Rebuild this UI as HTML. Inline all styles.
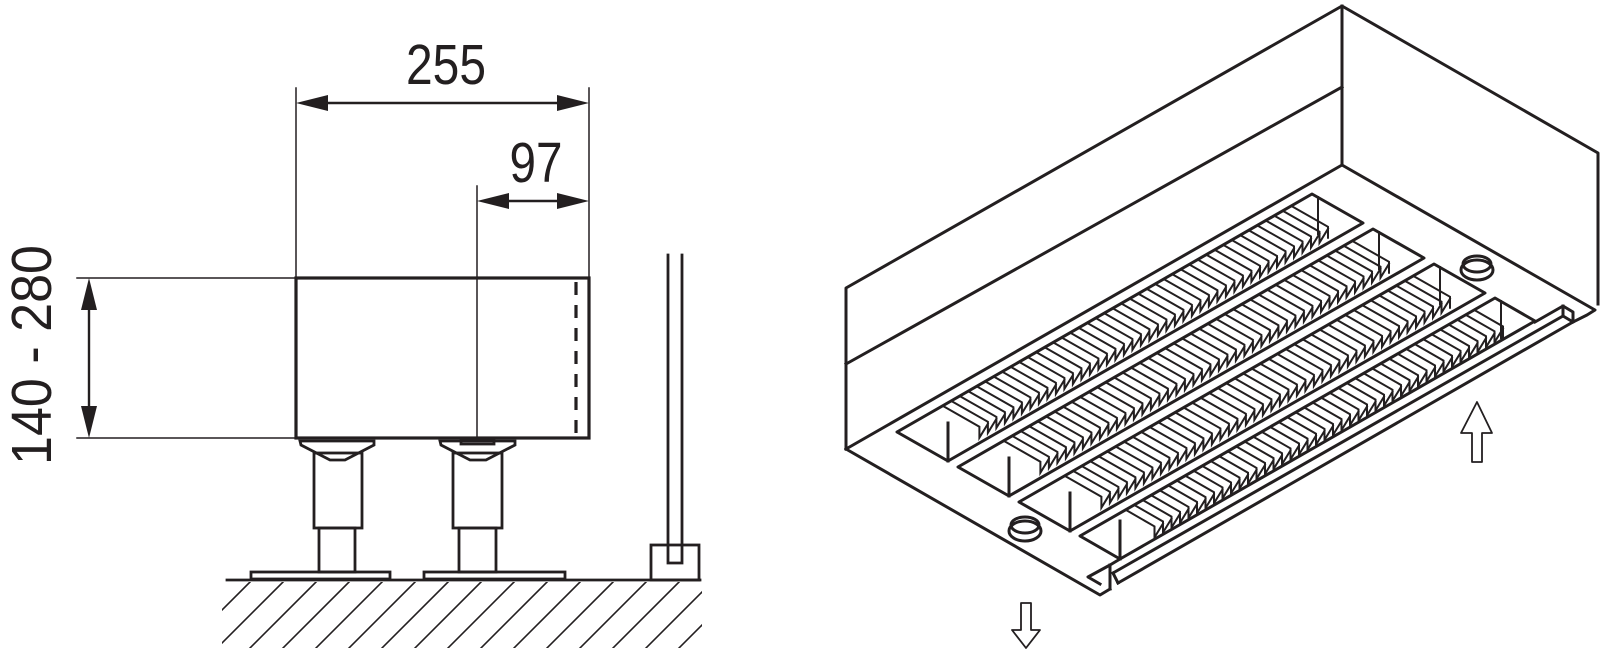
<!DOCTYPE html>
<html><head><meta charset="utf-8"><style>
html,body{margin:0;padding:0;background:#fff;}
svg{display:block;}
text{font-family:"Liberation Sans Narrow","Liberation Sans",sans-serif;fill:#231f20;}
</style></head><body>
<svg id="s" width="1600" height="661" viewBox="0 0 1600 661" xmlns="http://www.w3.org/2000/svg">
<defs><clipPath id="hc"><rect x="222" y="582" width="480" height="66"/></clipPath></defs>
<g stroke="#231f20" fill="none" stroke-linecap="square">
<g stroke-width="1.5">
<line x1="77" y1="278" x2="296" y2="278"/><line x1="77" y1="438" x2="296" y2="438"/>
<line x1="296" y1="88" x2="296" y2="278"/><line x1="589" y1="88" x2="589" y2="278"/>
<line x1="477" y1="186" x2="477" y2="438"/>
</g>
<g stroke-width="2.4">
<line x1="89" y1="300" x2="89" y2="416"/>
<line x1="318" y1="103" x2="567" y2="103"/>
<line x1="499" y1="201" x2="567" y2="201"/>
</g>
<g fill="#231f20" stroke="none">
<polygon points="89,278 81,310 97,310"/><polygon points="89,438 81,406 97,406"/>
<polygon points="296,103 328,95 328,111"/><polygon points="589,103 557,95 557,111"/>
<polygon points="477,201 509,193 509,209"/><polygon points="589,201 557,193 557,209"/>
</g>
<rect x="296" y="278" width="293" height="160" stroke-width="3.2"/>
<line x1="576" y1="282" x2="576" y2="434" stroke-width="3.2" stroke-dasharray="13,10" stroke-linecap="butt"/>
<g stroke-width="2.8">
<polygon points="300,441 374,441 374,445 345,460 330,460 301,445"/>
<rect x="314" y="453" width="48" height="75"/><rect x="319" y="528" width="36" height="44"/>
<rect x="251" y="572" width="139" height="7"/>
<polygon points="440,441 515,441 515,445 486,460 470,460 441,445"/>
<rect x="461" y="440" width="33" height="4"/>
<rect x="453" y="453" width="49" height="75"/><rect x="459" y="528" width="37" height="44"/>
<rect x="424" y="572" width="141" height="7"/>
<line x1="227" y1="580" x2="700" y2="580"/>
<rect x="651" y="545" width="48" height="35"/>
<polyline points="668,255 668,563 682,563 682,255"/>
</g>
<g stroke-width="1.6" clip-path="url(#hc)" id="hatch"></g>
<g stroke-width="3" stroke-linejoin="round">
<polyline points="846,449 846,288 1342,6 1598,153 1598,304"/>
<line x1="846" y1="364" x2="1342" y2="87"/>
<line x1="1342" y1="6" x2="1342" y2="165"/>
<line x1="846" y1="449" x2="1342" y2="165"/>
<polyline points="1342,165 1595,310 1587,315 1573,322"/>
<polyline points="846,449 1100,595 1110,589"/>
<polyline points="1120,559 1110,565 1088,577 1100,584"/>
<line x1="1110" y1="565" x2="1110" y2="589"/>
<polyline points="1535,322 1563,306 1573,312 1573,322 1563,316 1563,306"/>
<line x1="1563" y1="316" x2="1113" y2="573"/>
<line x1="1573" y1="322" x2="1118" y2="583"/>
<line x1="1113" y1="573" x2="1118" y2="583"/>
<ellipse cx="1025" cy="531" rx="16" ry="10"/><ellipse cx="1025" cy="525" rx="14" ry="8"/>
<ellipse cx="1477" cy="270" rx="16" ry="10"/><ellipse cx="1477" cy="264" rx="14" ry="8"/>
<polygon points="1021,603 1031,603 1031,630 1040,630 1026,648 1012,630 1021,630" stroke-width="1.8"/>
<polygon points="1477,402 1492,433 1482,433 1482,462 1472,462 1472,433 1461,433" stroke-width="1.8"/>
</g>
<g id="slots" stroke-width="3" stroke-linejoin="round"></g>
<g id="fins" stroke-width="2" stroke-linejoin="miter"></g>
</g>
<text x="446" y="84" font-size="57" text-anchor="middle" textLength="80" lengthAdjust="spacingAndGlyphs">255</text>
<text x="536" y="182" font-size="57" text-anchor="middle" textLength="53" lengthAdjust="spacingAndGlyphs">97</text>
<text transform="translate(51,355) rotate(-90)" font-size="57" text-anchor="middle" textLength="220" lengthAdjust="spacingAndGlyphs">140 - 280</text>
</svg>
<script>
var NS="http://www.w3.org/2000/svg";
function el(p,t,a){var e=document.createElementNS(NS,t);for(var k in a)e.setAttribute(k,a[k]);document.getElementById(p).appendChild(e);}
for(var x=250;x<800;x+=33){el("hatch","line",{x1:x,y1:582,x2:x-66,y2:648});}
var slots=[[897,432,51,29],[958,467,51,29],[1019,502,51,29],[1080,536,40,23]];
for(var i=0;i<4;i++){
 var L=[slots[i][0],slots[i][1]],s=[slots[i][2],slots[i][3]],u=[415,-238];
 var B=[L[0]+s[0],L[1]+s[1]],T=[L[0]+u[0],L[1]+u[1]],R=[T[0]+s[0],T[1]+s[1]];
 el("slots","polygon",{points:L+" "+B+" "+R+" "+T});
 el("slots","line",{x1:B[0],y1:B[1],x2:B[0],y2:B[1]-38});
 el("fins","line",{x1:T[0]+6,y1:T[1]+3,x2:T[0]+6,y2:T[1]+40});
 var n=42,d="",step=0.84/(n-1);
 for(var k=0;k<n;k++){
  var t=0.11+k*step;
  var P=[L[0]+u[0]*t,L[1]+u[1]*t];
  var a=[P[0]+s[0]*0.02,P[1]+s[1]*0.02],b=[P[0]+s[0]*0.72,P[1]+s[1]*0.72];
  d+="M"+a[0].toFixed(1)+" "+a[1].toFixed(1)+"L"+b[0].toFixed(1)+" "+b[1].toFixed(1)+"l0 11";
  if(k<n-1){var t2=t+step;
   var b2=[L[0]+u[0]*t2+s[0]*0.72,L[1]+u[1]*t2+s[1]*0.72];
   d+="L"+b2[0].toFixed(1)+" "+(b2[1]+2).toFixed(1);}
 }
 el("fins","path",{d:d});
}
</script>
</body></html>
